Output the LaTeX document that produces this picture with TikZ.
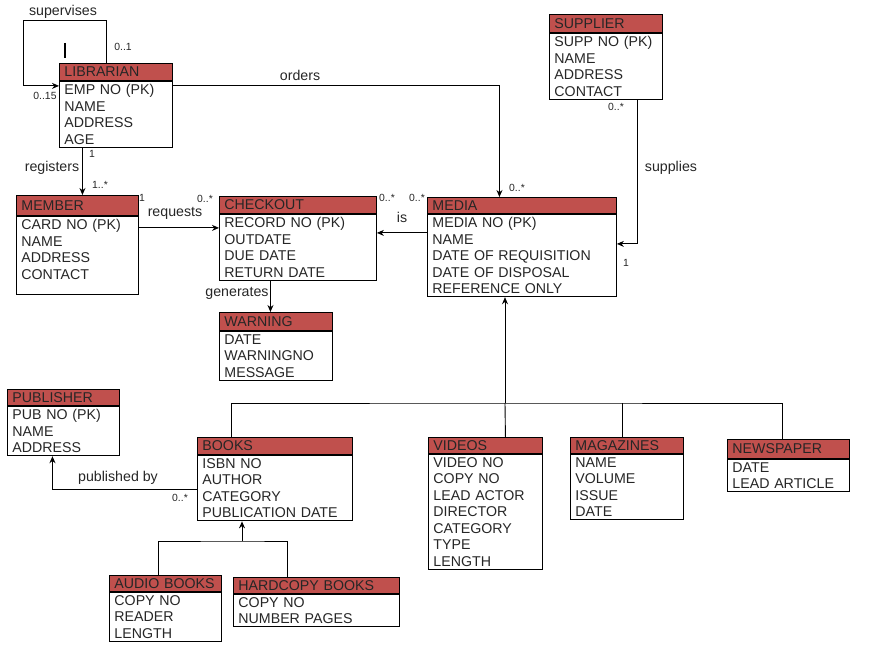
\documentclass[tikz,border=0pt]{standalone}
\usepackage{fontspec}
\setmainfont{Liberation Sans}
\usetikzlibrary{positioning,arrows.meta}
\definecolor{hdred}{RGB}{192,80,77}

\begin{document}
\begin{tikzpicture}[
    x=1pt, y=-1pt,
    line width=0.9pt,
    hdr/.style={
        draw,
        fill=hdred,
        anchor=north west,
        inner xsep=5pt,
        inner ysep=0pt,
        minimum height=17pt,
        align=left,
        text=black!85,
        font=\fontsize{14.2}{16.5}\selectfont
    },
    attrs/.style={
        draw,
        fill=white,
        anchor=north west,
        inner xsep=5pt,
        inner ysep=3pt,
        align=left,
        text=black!85,
        font=\fontsize{14.2}{16.5}\selectfont
    },
    arrow/.style={-{Stealth[length=7pt,width=6pt]}},
    rel/.style={font=\fontsize{14.2}{16.5}\selectfont, text=black!85},
    mult/.style={font=\fontsize{10.4}{12}\selectfont, text=black!85}
]
\useasboundingbox (0,0) rectangle (887,652);

% entities
\node[hdr, text width=103pt] (lib) at (59,63) {LIBRARIAN};
\node[attrs, text width=103pt] (lib-b) at (lib.south west)
    {EMP NO (PK)\\NAME\\ADDRESS\\AGE};

\node[hdr, text width=103pt, minimum height=18pt] (sup) at (549,14) {SUPPLIER};
\node[attrs, text width=103pt] (sup-b) at (sup.south west)
    {SUPP NO (PK)\\NAME\\ADDRESS\\CONTACT};

\node[hdr, text width=112pt, minimum height=20pt] (mem) at (16,195) {MEMBER};
\node[attrs, text width=112pt] (mem-b) at (mem.south west)
    {CARD NO (PK)\\NAME\\ADDRESS\\CONTACT\\[-4pt]\mbox{}};

\node[hdr, text width=147pt] (chk) at (219,196) {CHECKOUT};
\node[attrs, text width=147pt] (chk-b) at (chk.south west)
    {RECORD NO (PK)\\OUTDATE\\DUE DATE\\RETURN DATE};

\node[hdr, text width=179pt, minimum height=16pt] (med) at (427,197) {MEDIA};
\node[attrs, text width=179pt] (med-b) at (med.south west)
    {MEDIA NO (PK)\\NAME\\DATE OF REQUISITION\\DATE OF DISPOSAL\\REFERENCE ONLY};

\node[hdr, text width=103pt, minimum height=18pt] (warn) at (219,312) {WARNING};
\node[attrs, text width=103pt] (warn-b) at (warn.south west)
    {DATE\\WARNINGNO\\MESSAGE};

\node[hdr, text width=102pt, minimum height=16pt] (pub) at (7,389) {PUBLISHER};
\node[attrs, text width=102pt] (pub-b) at (pub.south west)
    {PUB NO (PK)\\NAME\\ADDRESS};

\node[hdr, text width=145pt] (bk) at (197,437) {BOOKS};
\node[attrs, text width=145pt] (bk-b) at (bk.south west)
    {ISBN NO\\AUTHOR\\CATEGORY\\PUBLICATION DATE};

\node[hdr, text width=104pt, minimum height=16pt] (vid) at (428,437) {VIDEOS};
\node[attrs, text width=104pt] (vid-b) at (vid.south west)
    {VIDEO NO\\COPY NO\\LEAD ACTOR\\DIRECTOR\\CATEGORY\\TYPE\\LENGTH};

\node[hdr, text width=103pt, minimum height=16pt] (mag) at (570,437) {MAGAZINES};
\node[attrs, text width=103pt] (mag-b) at (mag.south west)
    {NAME\\VOLUME\\ISSUE\\DATE};

\node[hdr, text width=112pt, minimum height=19pt] (news) at (727,439) {NEWSPAPER};
\node[attrs, text width=112pt] (news-b) at (news.south west)
    {DATE\\LEAD ARTICLE};

\node[hdr, text width=102pt, minimum height=16pt] (aud) at (109,575) {AUDIO BOOKS};
\node[attrs, text width=102pt] (aud-b) at (aud.south west)
    {COPY NO\\READER\\LENGTH};

\node[hdr, text width=156pt, minimum height=16pt] (hard) at (233,577) {HARDCOPY BOOKS};
\node[attrs, text width=156pt] (hard-b) at (hard.south west)
    {COPY NO\\NUMBER PAGES};

% relationships
\coordinate (supc) at (23,20);
\draw[arrow] ([xshift=-9.5pt]lib.north) |- (supc) |- ([yshift=-5pt]lib-b.north west);
\draw[line width=2.5pt] (65,43) -- (65,58);

\draw[arrow] ([yshift=-5pt]lib-b.north east) -| ([xshift=-22.5pt]med.north);

\draw[arrow] ([xshift=-33.5pt]lib-b.south) -- ([xshift=-33.5pt]lib-b.south |- mem.north);

\draw[arrow] ([yshift=-12pt]mem-b.north east) -- ([yshift=-12pt]mem-b.north east -| chk-b.west);

\draw[arrow] ([yshift=-19pt]med-b.north west) -- ([yshift=-19pt]med-b.north west -| chk-b.east);

\draw[arrow] ([xshift=-27.5pt]chk-b.south) -- ([xshift=-27.5pt]chk-b.south |- warn.north);

\draw[arrow] ([xshift=31.5pt]sup-b.south) |- ([yshift=-30pt]med-b.north east);

% media subtypes
\coordinate (mbus) at (505,403);
\draw[arrow] (mbus) -- (mbus |- med-b.south);
\draw ([xshift=-43.5pt]bk.north) |- (mbus) -| ([xshift=-6pt]news.north);
\draw ([xshift=20pt]vid.north) -- (mbus);
\draw ([xshift=-4.5pt]mag.north) -- ([xshift=-4.5pt]mag.north |- mbus);

\draw[arrow] ([yshift=-35pt]bk-b.north west) -| ([xshift=-11pt]pub-b.south);

% book subtypes
\coordinate (bbus) at (242,541);
\draw[arrow] (bbus) -- (bbus |- bk-b.south);
\draw ([xshift=-7pt]aud.north) |- (bbus) -| ([xshift=-29pt]hard.north);

% labels
\node[rel] (l-sup) at (63,12) {supervises};
\node[rel] (l-ord) at (300,75) {orders};
\node[rel] (l-reg) at (52,168) {registers};
\node[rel] (l-req) at (175,213) {requests};
\node[rel] (l-is) at (402,217) {is};
\node[rel] (l-gen) at (237,293) {generates};
\node[rel] (l-spl) at (671,168) {supplies};
\node[rel] (l-pub) at (118,478) {published by};

% multiplicities
\node[mult] (m1) at (123,47) {0..1};
\node[mult] (m2) at (45,96) {0..15};
\node[mult] (m3) at (92,154) {1};
\node[mult] (m4) at (100,185) {1..*};
\node[mult] (m5) at (142,198) {1};
\node[mult] (m6) at (205,199) {0..*};
\node[mult] (m7) at (387,198) {0..*};
\node[mult] (m8) at (417,198) {0..*};
\node[mult] (m9) at (517,188) {0..*};
\node[mult] (m10) at (616,107) {0..*};
\node[mult] (m11) at (626,263) {1};
\node[mult] (m12) at (180,498) {0..*};

\end{tikzpicture}
\end{document}
